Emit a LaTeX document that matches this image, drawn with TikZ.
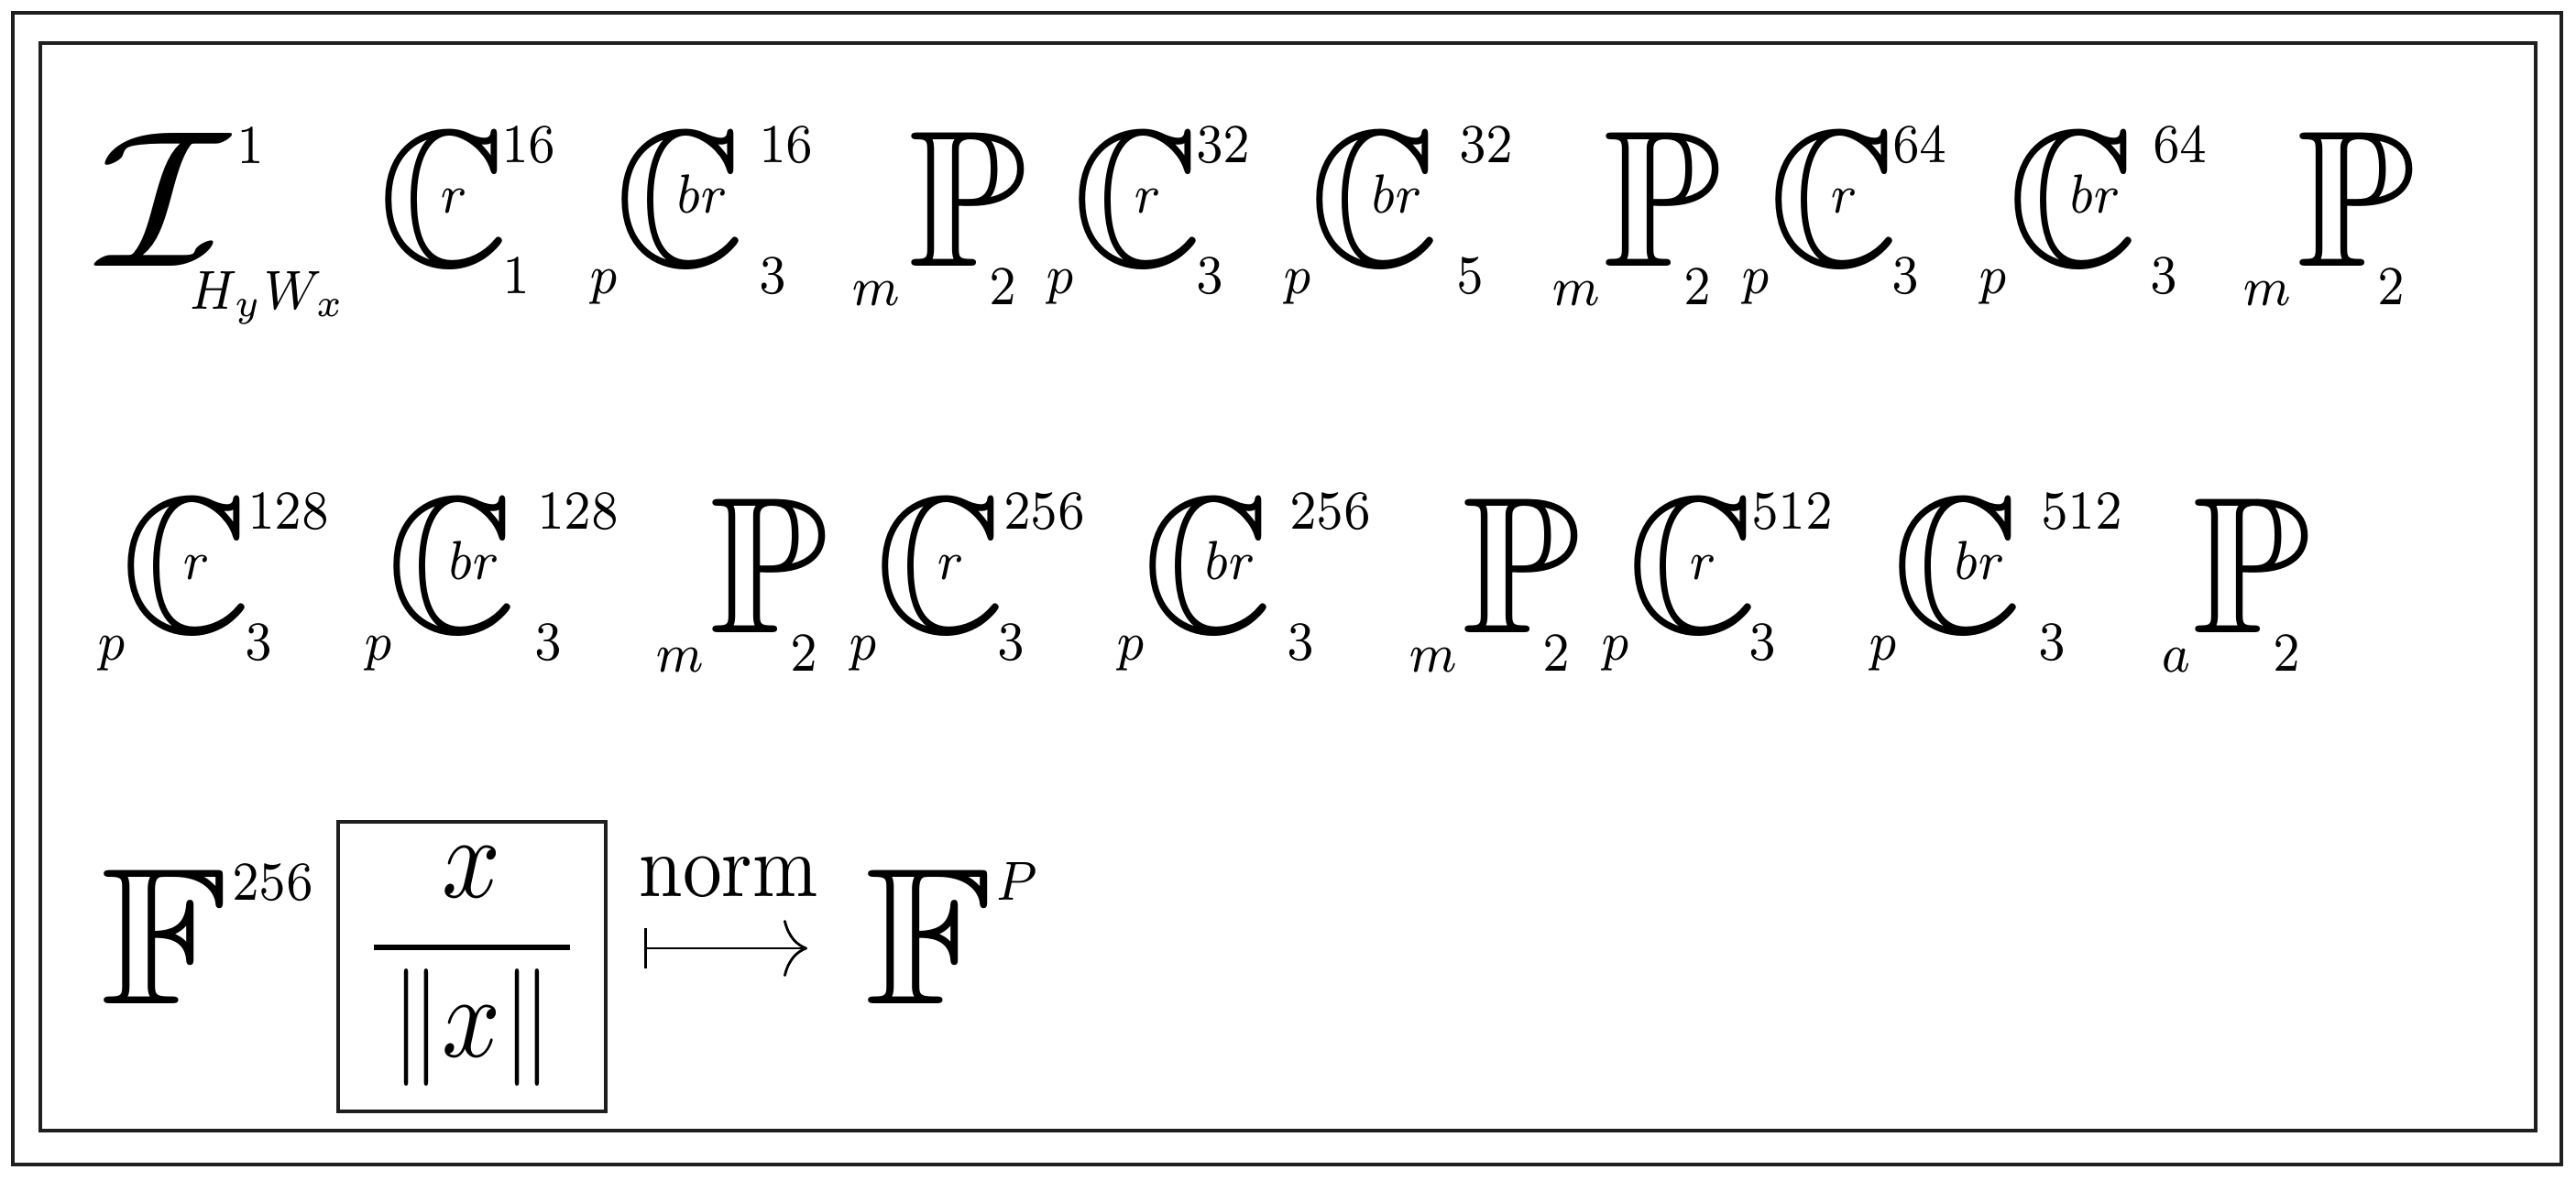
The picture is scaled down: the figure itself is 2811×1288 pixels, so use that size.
\documentclass[tikz,border=0pt]{standalone}
\usepackage{amsmath}
\usepackage{amssymb}
\usetikzlibrary{arrows.meta}

% glyphs are drawn at 10pt and scaled up (slightly narrowed, as in the figure)
\newcommand{\bbsym}[2][5.29]{\scalebox{#1}[6.04]{$\mathbb{#2}$}}
\newcommand{\calsym}[1]{\scalebox{6.5}[6.04]{$\mathcal{#1}$}}
\newcommand{\smallsym}[1]{\scalebox{2.135}[2.44]{$\scriptstyle #1$}}
\newcommand{\fracsym}[1]{\scalebox{3.19}[3.64]{$\displaystyle #1$}}
\newcommand{\lblsym}[1]{\scalebox{2.43}[2.77]{#1}}

\begin{document}
\begin{tikzpicture}[x=0.1mm, y=-0.1mm,
    glyph/.style={anchor=base west, inner sep=0pt, outer sep=0pt},
    frame/.style={draw=black!88, line width=0.4mm}]
    \useasboundingbox (0,0) rectangle (2811,1288);

    % double frame
    \draw[frame] (14,14) rectangle (2795,1271);
    \draw[frame] (44,47) rectangle (2767,1234);

    % first row
    \node[glyph] (I) at (108,290) {\calsym{I}};
    \node[glyph] (I-sup) at (258,178) {\smallsym{1}};
    \node[glyph] (I-sub) at (206,337) {\smallsym{H_yW_x}};

    \foreach \n/\x/\l/\u/\a/\d/\b in {c1/418/r/16/548/1/552, c2/676/br/16/829/3/832,
        c3/1175/r/32/1306/3/1309, c4/1434/br/32/1593/5/1593,
        c5/1935/r/64/2066/3/2068, c6/2196/br/64/2350/3/2350} {
        \node[glyph] (\n) at (\x-5,290) {\bbsym[5.6]{C}};
        \node[glyph] (\n-in) at (\x+62,232) {\smallsym{\l}};
        \node[glyph] (\n-sup) at (\a-1,177) {\smallsym{\u}};
        \node[glyph] (\n-sub) at (\b-4,320) {\smallsym{\d}};
    }
    \foreach \n/\x in {p1/995, p2/1753, p3/2510} {
        \node[glyph] (\n) at (\x-4,290) {\bbsym[6.0]{P}};
        \node[glyph] (\n-sub) at (\x+84,332) {\smallsym{2}};
    }
    \foreach \n/\x/\t/\y in {c2-pre/645/p/320, c3-pre/1143/p/320, c4-pre/1402/p/320,
        c5-pre/1902/p/320, c6-pre/2161/p/320,
        p1-pre/931/m/333, p2-pre/1695/m/333, p3-pre/2449/m/333}
        \node[glyph] (\n) at (\x-2,\y) {\smallsym{\t}};

    % second row
    \foreach \n/\x/\l/\u/\a/\d/\b in {d1/137/r/128/271/3/271, d2/427/br/128/587/3/587,
        d3/960/r/256/1096/3/1092, d4/1252/br/256/1408/3/1408,
        d5/1781/r/512/1912/3/1912, d6/2070/br/512/2228/3/2228} {
        \node[glyph] (\n) at (\x-5,690) {\bbsym[5.6]{C}};
        \node[glyph] (\n-in) at (\x+62,632) {\smallsym{\l}};
        \node[glyph] (\n-sup) at (\a-1,577) {\smallsym{\u}};
        \node[glyph] (\n-sub) at (\b-4,720) {\smallsym{\d}};
    }
    \foreach \n/\x in {e1/778, e2/1599, e3/2396} {
        \node[glyph] (\n) at (\x-4,690) {\bbsym[6.0]{P}};
        \node[glyph] (\n-sub) at (\x+84,732) {\smallsym{2}};
    }
    \foreach \n/\x/\t/\y in {d1-pre/108/p/720, d2-pre/399/p/720, d3-pre/928/p/720,
        d4-pre/1220/p/720, d5-pre/1749/p/720, d6-pre/2041/p/720,
        e1-pre/717/m/733, e2-pre/1539/m/733, e3-pre/2360/a/733}
        \node[glyph] (\n) at (\x-2,\y) {\smallsym{\t}};

    % third row
    \node[glyph] (F-in) at (111,1095) {\bbsym[6.5]{F}};
    \node[glyph] (F-in-sup) at (253,982) {\smallsym{256}};
    \node[draw=black!88, line width=0.35mm, inner sep=0pt,
        minimum width=29.2mm, minimum height=31.6mm] (nrm) at (515,1055)
        {\fracsym{\frac{x}{\,\|x\|\,}}};
    \coordinate (map-l) at (703,1035);
    \coordinate (map-r) at (881,1035);
    \draw[line width=0.28mm, {Bar[width=4.4mm]}-{To[length=2.6mm,width=6.2mm]}] (map-l) -- (map-r);
    \node[glyph, anchor=base] (map-lbl) at (795,978) {\lblsym{norm}};
    \node[glyph] (F-out) at (944,1095) {\bbsym[6.5]{F}};
    \node[glyph] (F-out-sup) at (1086,982) {\smallsym{P}};
\end{tikzpicture}
\end{document}
